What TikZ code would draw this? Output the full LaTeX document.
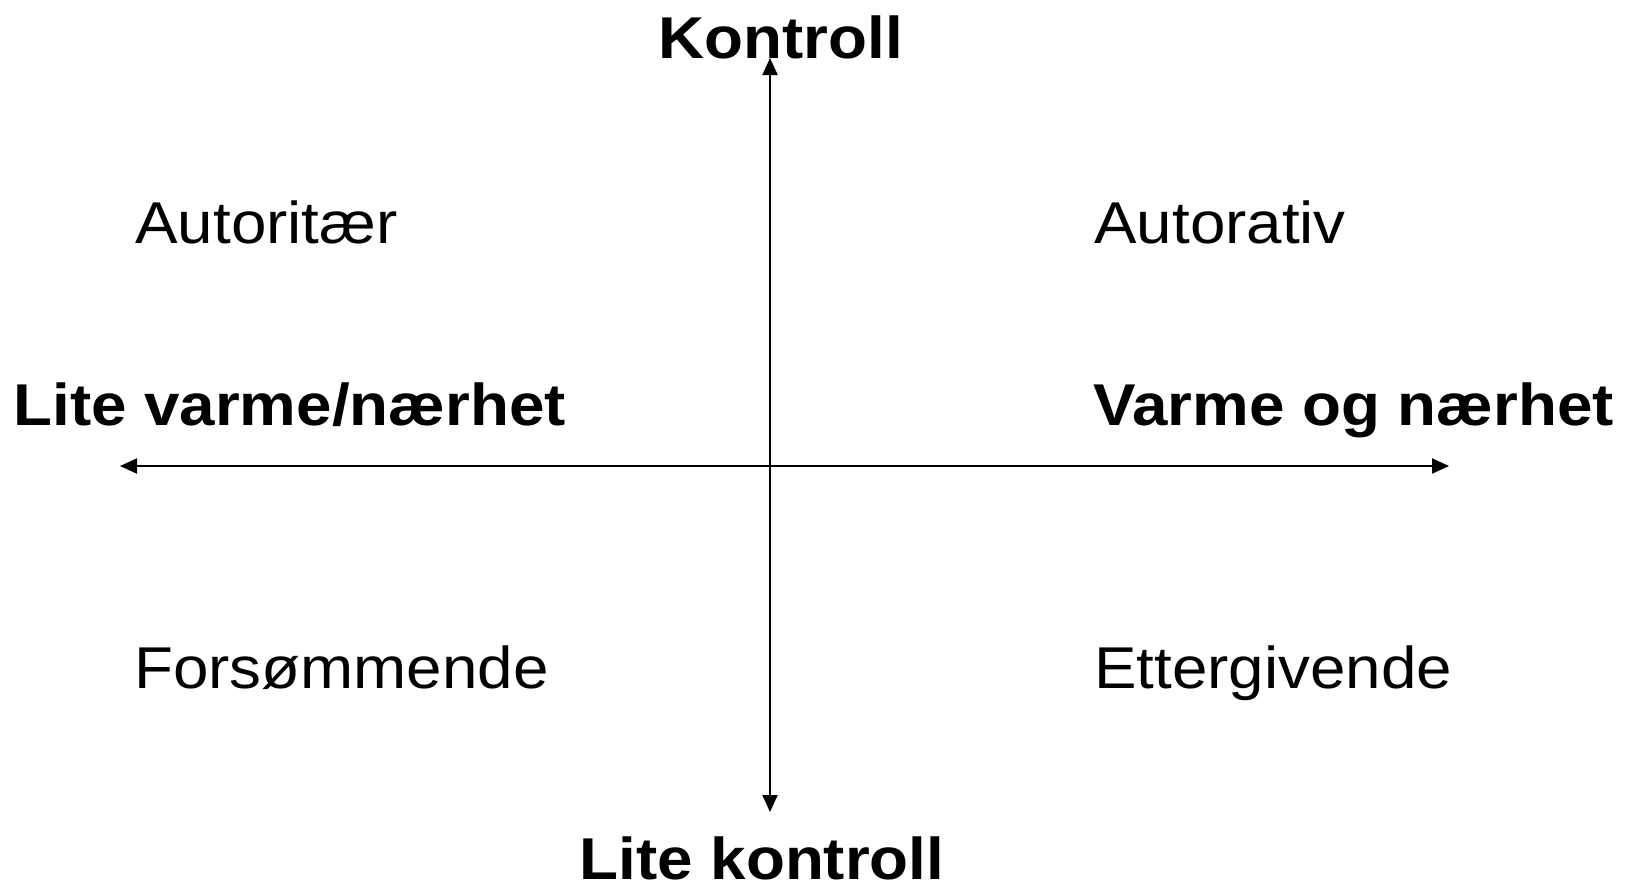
\documentclass[tikz,border=0pt]{standalone}
\usepackage{fontspec}
\setmainfont[FakeStretch=1.08]{Liberation Sans}
\newfontfamily\axisfont[FakeStretch=1.08]{Liberation Sans Bold}
\usetikzlibrary{arrows.meta}
\tikzset{
  axis/.style={line width=1pt, {Triangle[length=8.5pt,width=7.5pt]}-{Triangle[length=8.5pt,width=7.5pt]}},
  quadrant/.style={anchor=base west, inner sep=0pt, font=\fontsize{29.5pt}{34pt}\selectfont},
  pole/.style={inner sep=0pt, font=\fontsize{29.5pt}{34pt}\axisfont},
}
\begin{document}
\begin{tikzpicture}[x=0.5pt, y=-0.5pt]
  \useasboundingbox (0,0) rectangle (1631,889);
  % axis end points
  \coordinate (top) at (770,58);
  \coordinate (bottom) at (770,812);
  \coordinate (left) at (120,466);
  \coordinate (right) at (1449,466);
  \draw[axis] (bottom) -- (top);
  \draw[axis] (left) -- (right);
  % pole labels
  \node[pole, anchor=base] (kontroll) at (781,58) {Kontroll};
  \node[pole, anchor=base] (litekontroll) at (762,879) {Lite kontroll};
  \node[pole, anchor=base west] (litevarme) at (13,425) {Lite varme/nærhet};
  \node[pole, anchor=base west] (varme) at (1093,425) {Varme og nærhet};
  % quadrant labels
  \node[quadrant] (autoritaer) at (135,243) {Autoritær};
  \node[quadrant] (autorativ) at (1094,243) {Autorativ};
  \node[quadrant] (forsommende) at (134,688) {Forsømmende};
  \node[quadrant] (ettergivende) at (1094,688) {Ettergivende};
\end{tikzpicture}
\end{document}
